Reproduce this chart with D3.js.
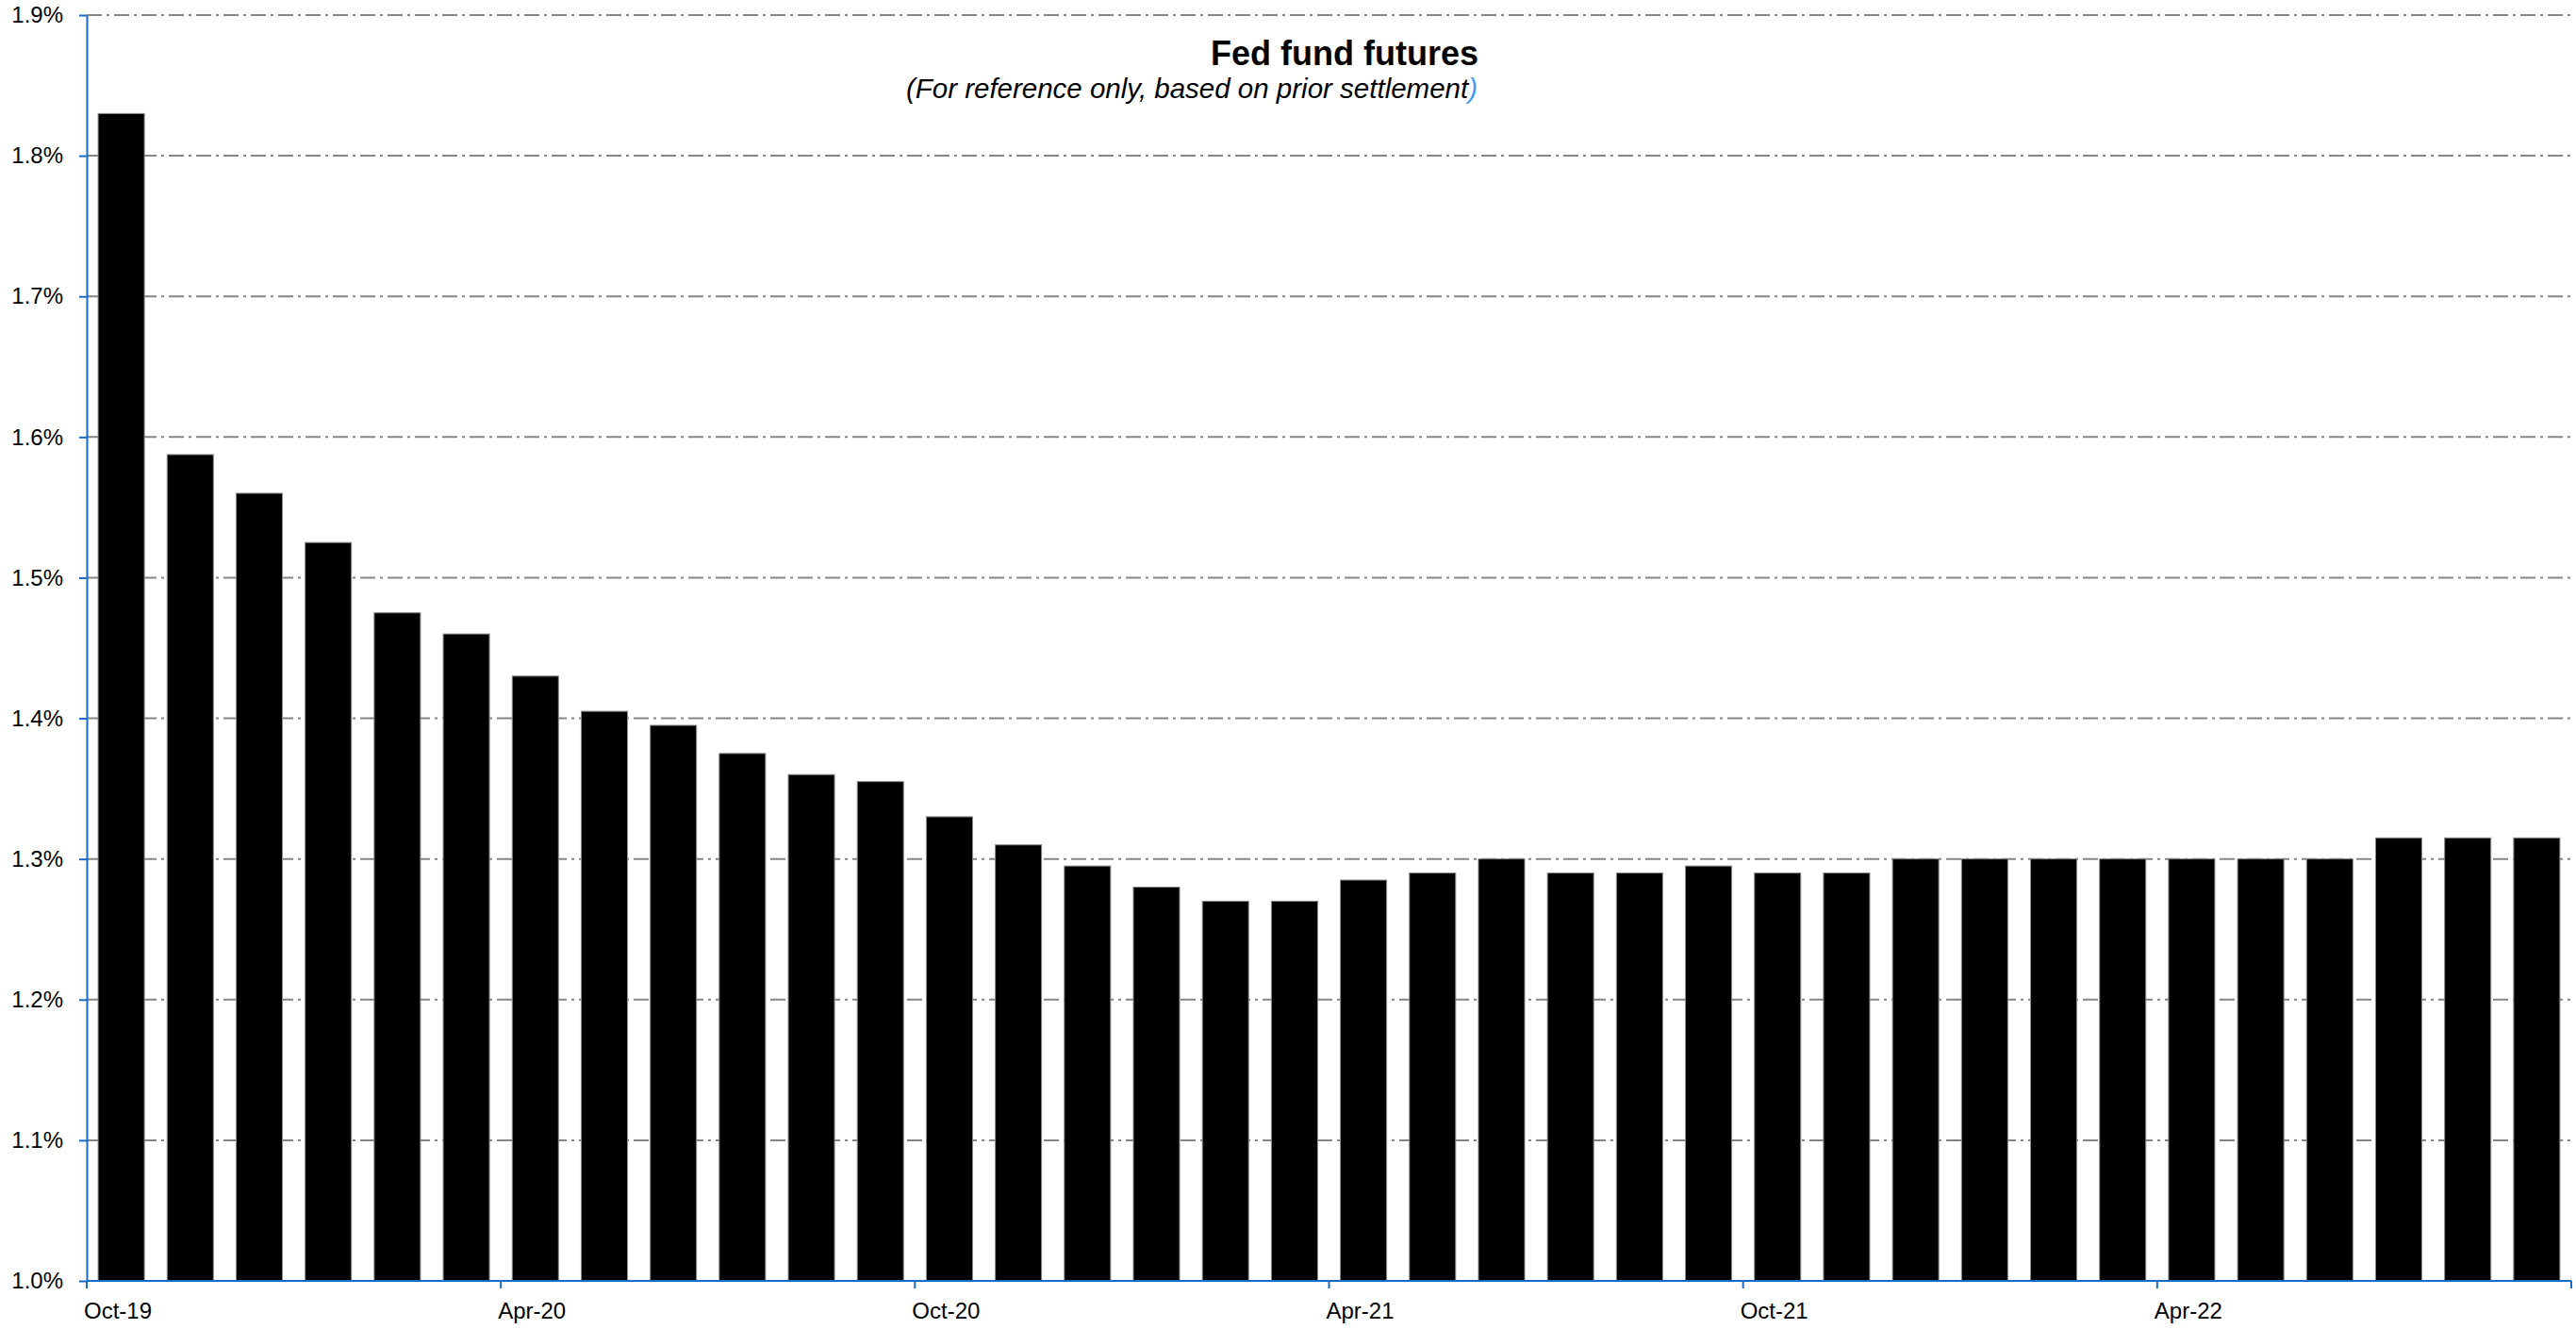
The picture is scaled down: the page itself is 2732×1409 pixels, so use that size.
<!DOCTYPE html>
<html>
<head>
<meta charset="utf-8">
<script src="https://cdnjs.cloudflare.com/ajax/libs/d3/7.8.5/d3.min.js"></script>
<style>
  body { margin: 0; background: #fff; }
  text { font-family: "Liberation Sans", Arial, sans-serif; fill: #000; }
</style>
</head>
<body>
<div id="chart"></div>
<script>
// contract months, Oct-19 through Sep-22
var months = ["Oct-19", "Nov-19", "Dec-19", "Jan-20", "Feb-20", "Mar-20",
  "Apr-20", "May-20", "Jun-20", "Jul-20", "Aug-20", "Sep-20",
  "Oct-20", "Nov-20", "Dec-20", "Jan-21", "Feb-21", "Mar-21",
  "Apr-21", "May-21", "Jun-21", "Jul-21", "Aug-21", "Sep-21",
  "Oct-21", "Nov-21", "Dec-21", "Jan-22", "Feb-22", "Mar-22",
  "Apr-22", "May-22", "Jun-22", "Jul-22", "Aug-22", "Sep-22"];

// implied rate (%)
var rates = [1.83, 1.5875, 1.56, 1.525, 1.475, 1.46,
  1.43, 1.405, 1.395, 1.375, 1.36, 1.355,
  1.33, 1.31, 1.295, 1.28, 1.27, 1.27,
  1.285, 1.29, 1.30, 1.29, 1.29, 1.295,
  1.29, 1.29, 1.30, 1.30, 1.30, 1.30,
  1.30, 1.30, 1.30, 1.315, 1.315, 1.315];

var yTicks = [1.0, 1.1, 1.2, 1.3, 1.4, 1.5, 1.6, 1.7, 1.8, 1.9];
var xTickLabels = ["Oct-19", "Apr-20", "Oct-20", "Apr-21", "Oct-21", "Apr-22"];

var svgWidth = 2732;
var svgHeight = 1409;

var margin = {
  top: 16,
  right: 5,
  bottom: 51,
  left: 92
};

var width = svgWidth - margin.left - margin.right;
var height = svgHeight - margin.top - margin.bottom;

var axisColor = "#1a6ac4";

var svg = d3.select("#chart")
  .append("svg")
  .attr("width", svgWidth)
  .attr("height", svgHeight);

var chartGroup = svg.append("g")
  .attr("transform", `translate(${margin.left}, ${margin.top})`);

// scales
var xBandScale = d3.scaleBand()
  .domain(months)
  .range([0, width])
  .paddingInner(0.33)
  .paddingOuter(0.165);

var yLinearScale = d3.scaleLinear()
  .domain([1.0, 1.9])
  .range([height, 0]);

// left edge of a month's slot (where the x ticks sit)
function slotStart(m) {
  return xBandScale(m) - (xBandScale.step() - xBandScale.bandwidth()) / 2;
}

// dash-dot gridlines
chartGroup.append("g")
  .selectAll("line")
  .data(yTicks.filter(d => d > 1.0))
  .enter()
  .append("line")
  .attr("x1", 0)
  .attr("x2", width)
  .attr("y1", d => yLinearScale(d))
  .attr("y2", d => yLinearScale(d))
  .attr("stroke", "#858585")
  .attr("stroke-width", 2)
  .attr("stroke-dasharray", "16,5,3,5");

// bars
chartGroup.selectAll("rect.bar")
  .data(rates)
  .enter()
  .append("rect")
  .attr("class", "bar")
  .attr("x", (d, i) => xBandScale(months[i]))
  .attr("y", d => yLinearScale(d))
  .attr("width", xBandScale.bandwidth())
  .attr("height", d => height - yLinearScale(d))
  .attr("fill", "#000")
  .attr("stroke", "#8a8a8a")
  .attr("stroke-width", 1);

// y axis
var leftAxis = d3.axisLeft(yLinearScale)
  .tickValues(yTicks)
  .tickSize(8)
  .tickSizeOuter(0)
  .tickPadding(17)
  .tickFormat(d => d3.format(".1f")(d) + "%");

var yAxis = chartGroup.append("g")
  .call(leftAxis);

yAxis.select(".domain")
  .attr("stroke", axisColor)
  .attr("stroke-width", 2);
yAxis.selectAll(".tick line")
  .attr("stroke", axisColor)
  .attr("stroke-width", 2);
yAxis.selectAll(".tick text")
  .attr("font-size", 24)
  .attr("font-family", "Liberation Sans, Arial, sans-serif")
  .attr("fill", "#000");

// x axis line
var xAxis = chartGroup.append("g")
  .attr("transform", `translate(0, ${height})`);

xAxis.append("line")
  .attr("x1", 0)
  .attr("x2", width)
  .attr("stroke", axisColor)
  .attr("stroke-width", 2);

// x ticks at slot boundaries, plus one at the far end
var xTickPos = xTickLabels.map(m => slotStart(m)).concat([width]);

xAxis.selectAll("line.xtick")
  .data(xTickPos)
  .enter()
  .append("line")
  .attr("class", "xtick")
  .attr("x1", d => d)
  .attr("x2", d => d)
  .attr("y1", 0)
  .attr("y2", 8)
  .attr("stroke", axisColor)
  .attr("stroke-width", 2);

xAxis.selectAll("text.xlabel")
  .data(xTickLabels)
  .enter()
  .append("text")
  .attr("class", "xlabel")
  .attr("x", d => slotStart(d) - 3)
  .attr("y", 40)
  .attr("font-size", 24)
  .text(d => d);

// title
svg.append("text")
  .attr("x", 1568)
  .attr("y", 69)
  .attr("text-anchor", "end")
  .attr("font-size", 36)
  .attr("font-weight", "bold")
  .text("Fed fund futures");

var subtitle = svg.append("text")
  .attr("x", 1567)
  .attr("y", 104)
  .attr("text-anchor", "end")
  .attr("font-size", 29.5)
  .attr("font-style", "italic");

subtitle.append("tspan")
  .text("(For reference only, based on prior settlement");
subtitle.append("tspan")
  .style("fill", "#3d9df0")
  .text(")");
</script>
</body>
</html>
